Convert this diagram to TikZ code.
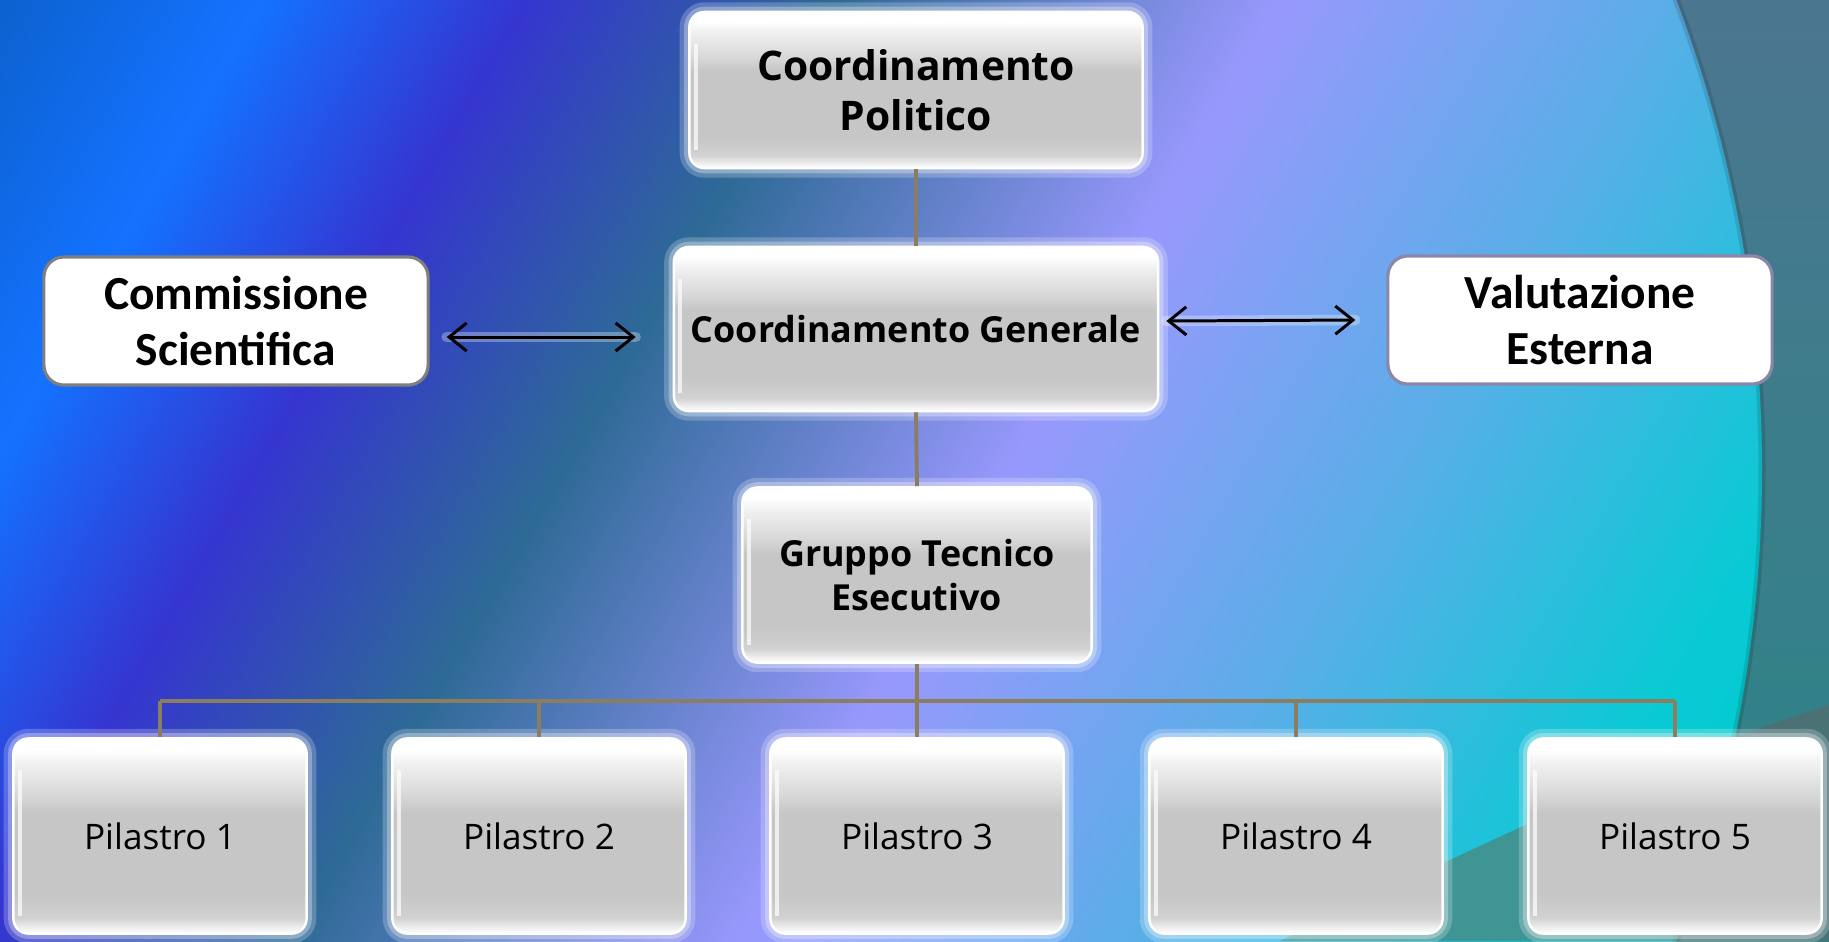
\documentclass[tikz,border=0pt]{standalone}
\usepackage{fontspec}
\usepackage{tikz}
\usetikzlibrary{arrows.meta}
\usetikzlibrary{calc}
\newfontfamily\segoe{Open Sans}
\newfontfamily\calib{Carlito}

\definecolor{bgA}{HTML}{0C62D0}
\definecolor{bgB}{HTML}{1472FF}
\definecolor{bgC}{HTML}{3535D0}
\definecolor{bgD}{HTML}{2E6A96}
\definecolor{bgE}{HTML}{9898FC}
\definecolor{bgF}{HTML}{5AAEE8}
\definecolor{bgG}{HTML}{08CAD4}
\definecolor{bgH}{HTML}{00CCCC}
\definecolor{glA}{HTML}{F2F2F2}
\definecolor{glB}{HTML}{D6D6D6}
\definecolor{glC}{HTML}{C6C6C6}
\definecolor{glD}{HTML}{D2D2D2}
\definecolor{glE}{HTML}{EFEFEF}
\definecolor{linkbrown}{HTML}{8B7D60}
\definecolor{edgegray}{HTML}{7F7F7F}
\definecolor{edgelilac}{HTML}{8C86A8}
\definecolor{outtop}{HTML}{4C7690}
\definecolor{outbot}{HTML}{2A8585}
\definecolor{outband}{HTML}{4A7275}
\definecolor{bandteal}{HTML}{3F9494}

\pgfdeclarehorizontalshading{sfondo}{100bp}{color(0bp)=(bgA); color(25bp)=(bgA);
  color(30.4bp)=(bgB); color(36bp)=(bgC); color(42.5bp)=(bgD); color(52bp)=(bgE);
  color(60.3bp)=(bgF); color(68.8bp)=(bgG); color(75bp)=(bgH); color(100bp)=(bgH)}
\pgfdeclareverticalshading{lucido}{100bp}{color(0bp)=(white); color(25bp)=(white);
  color(26.5bp)=(glE); color(29bp)=(glD); color(35bp)=(glC); color(56bp)=(glC);
  color(60bp)=(glB); color(69bp)=(glA); color(72bp)=(white); color(100bp)=(white)}

\begin{document}
\begin{tikzpicture}[x=0.01cm,y=-0.01cm,
  lucida/.style={shade, shading=lucido, draw=white, line width=0.7pt,
    rounded corners=0.15cm, inner sep=0pt, align=center,
    preaction={draw=white, opacity=.22, line width=5.5pt},
    preaction={draw=white, opacity=.3, line width=3pt},
    path picture={\fill[white, opacity=.7, sharp corners]
      ([xshift=1.2pt,yshift=-9pt]path picture bounding box.north west) rectangle
      ([xshift=2.4pt,yshift=5pt]path picture bounding box.south west);}},
  bianca/.style={fill=white, line width=0.9pt, rounded corners=0.2cm,
    inner sep=0pt, align=center, minimum width=3.84cm, minimum height=1.28cm,
    font=\calib\bfseries\fontsize{13.5}{16.2}\selectfont},
  pilastro/.style={lucida, minimum width=2.93cm, minimum height=1.95cm,
    font=\segoe\fontsize{10}{12}\selectfont},
  collega/.style={draw=linkbrown, line width=1.1pt},
  bagliore/.style={draw=white, opacity=.3, line width=3pt, line cap=round},
  doppia/.style={{Straight Barb[length=5pt,width=8pt]}-{Straight Barb[length=5pt,width=8pt]},
    line width=0.85pt}]
\useasboundingbox (0,0) rectangle (1829,941);
\shade[top color=outtop, bottom color=outbot] (0,0) rectangle (1829,941);
\fill[outband] (1829,705) .. controls (1640,765) and (1450,860) .. (1280,941) -- (1829,941) -- cycle;
\begin{scope}
\clip (0,0) rectangle (1829,941);
\clip (435,470) circle (1327);
\shade[shading=sfondo, shading angle=-30] (-112.5,-556.5) rectangle (1941.5,1497.5);
\fill[bandteal] (1829,705) .. controls (1640,765) and (1450,860) .. (1280,941) -- (1829,941) -- cycle;
\end{scope}
\draw[black, opacity=.12, line width=2pt] (435,470) circle (1327);

\node[lucida, minimum width=4.53cm, minimum height=1.56cm,
  font=\segoe\bfseries\fontsize{11.6}{14.2}\selectfont] (cp) at (916,90) {Coordinamento\\Politico};
\node[lucida, minimum width=4.84cm, minimum height=1.64cm,
  font=\segoe\bfseries\fontsize{10.2}{12.5}\selectfont] (cg) at (916,329) {Coordinamento Generale};
\node[lucida, minimum width=3.49cm, minimum height=1.75cm,
  font=\segoe\bfseries\fontsize{10.2}{12.5}\selectfont] (gte) at (917,575) {Gruppo Tecnico\\Esecutivo};
\node[bianca, draw=edgegray] (comm) at (236,321) {Commissione\\Scientifica};
\node[bianca, draw=edgelilac] (val) at (1580,320) {Valutazione\\Esterna};
\foreach \x [count=\i] in {160,539,917,1296,1675}
  \node[pilastro] (p\i) at (\x,836) {Pilastro \i};
\coordinate (snodo) at (917,701);

\draw[collega] (cp.south) -- (cg.north);
\draw[collega] (cg.south) -- (gte.north);
\draw[collega] (gte.south) -- (snodo);
\draw[collega] (snodo -| p1.north) -- (snodo -| p5.north);
\foreach \i in {1,...,5}
  \draw[collega] (snodo -| p\i.north) -- (p\i.north);

\coordinate (sx1) at ($(comm.east)+(17,16)$);
\coordinate (sx2) at ($(cg.west)+(-37,8)$);
\coordinate (dx1) at ($(cg.east)+(7,-8)$);
\coordinate (dx2) at ($(val.west)+(-31,0)$);
\draw[bagliore] (sx1) -- (sx2);
\draw[bagliore] (dx1) -- (dx2);
\draw[doppia] (sx1) -- (sx2);
\draw[doppia] (dx1) -- (dx2);
\end{tikzpicture}
\end{document}
